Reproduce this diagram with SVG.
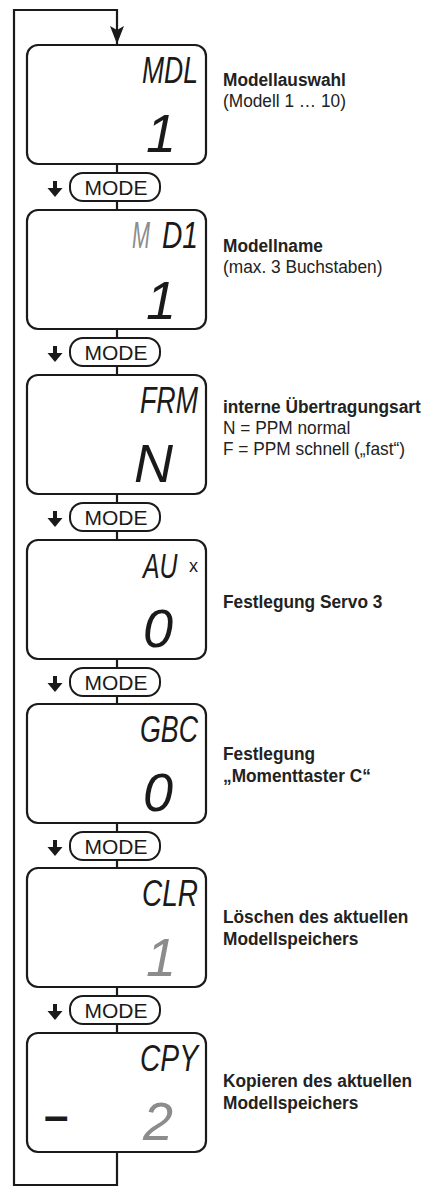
<svg xmlns="http://www.w3.org/2000/svg" width="429" height="1187" viewBox="0 0 429 1187">
<style>
.box{fill:#fff;stroke:#1a1a1a;stroke-width:2.2}
.btn{fill:#fff;stroke:#1a1a1a;stroke-width:2}
.ln{fill:none;stroke:#1a1a1a;stroke-width:2.2}
.mode{font-family:"Liberation Sans",Arial,sans-serif;font-size:21px;fill:#1a1a1a;text-anchor:middle}
.lcd{font-family:"Liberation Sans",Arial,sans-serif;font-style:italic;fill:#1a1a1a;text-anchor:end}
.top{font-size:36px}
.big{font-size:54px}
.grey{fill:#8c8c8c}
.t{font-family:"Liberation Sans",Arial,sans-serif;font-size:18.5px;fill:#222}
.b{font-weight:bold}
.arr{fill:#1a1a1a}
</style>
<defs>
<marker id="ah" markerUnits="userSpaceOnUse" markerWidth="20" markerHeight="16" refX="18" refY="8" orient="auto" viewBox="0 0 20 16">
<path d="M0,1 L18,8 L0,15 L4,8 Z" fill="#1a1a1a"/>
</marker>
<g id="dn"><rect x="-2" y="-6" width="4" height="8"/><path d="M-7.5,1 L7.5,1 L0,10 Z"/></g>
</defs>

<g id="connectors">
<path class="ln" d="M117,1152 V1185 H14 V10 H117 V44" marker-end="url(#ah)"/>
<path class="ln" d="M117,164 V173 M117,201 V210 M117,329 V338 M117,366 V375 M117,494 V503 M117,531 V540 M117,659 V668 M117,696 V704 M117,823 V832 M117,860 V868 M117,987 V996 M117,1024 V1033"/>
</g>

<g id="mode-buttons">
<g id="mode1"><rect class="btn" x="70" y="173" width="90" height="28" rx="13"/><text class="mode" x="116" y="194.5">MODE</text><use href="#dn" x="55" y="187" class="arr"/></g>
<g id="mode2"><rect class="btn" x="70" y="338" width="90" height="28" rx="13"/><text class="mode" x="116" y="359.5">MODE</text><use href="#dn" x="55" y="352" class="arr"/></g>
<g id="mode3"><rect class="btn" x="70" y="503" width="90" height="28" rx="13"/><text class="mode" x="116" y="524.5">MODE</text><use href="#dn" x="55" y="517" class="arr"/></g>
<g id="mode4"><rect class="btn" x="70" y="668" width="90" height="28" rx="13"/><text class="mode" x="116" y="689.5">MODE</text><use href="#dn" x="55" y="682" class="arr"/></g>
<g id="mode5"><rect class="btn" x="70" y="832" width="90" height="28" rx="13"/><text class="mode" x="116" y="853.5">MODE</text><use href="#dn" x="55" y="846" class="arr"/></g>
<g id="mode6"><rect class="btn" x="70" y="996" width="90" height="28" rx="13"/><text class="mode" x="116" y="1017.5">MODE</text><use href="#dn" x="55" y="1010" class="arr"/></g>
</g>

<g id="n1">
<rect class="box" x="27" y="45" width="179" height="119" rx="11"/>
<text class="lcd top" x="198" y="83" textLength="56" lengthAdjust="spacingAndGlyphs">MDL</text>
<text class="lcd big" x="176" y="152">1</text>
<g transform="translate(223,0) scale(0.935,1)">
<text class="t b" x="0" y="86">Modellauswahl</text>
<text class="t" x="0" y="107">(Modell 1 … 10)</text>
</g>
</g>

<g id="n2">
<rect class="box" x="27" y="210" width="179" height="119" rx="11"/>
<text class="lcd top grey" x="150" y="248" textLength="18" lengthAdjust="spacingAndGlyphs">M</text>
<text class="lcd top" x="198" y="248" textLength="36" lengthAdjust="spacingAndGlyphs">D1</text>
<text class="lcd big" x="176" y="319">1</text>
<g transform="translate(223,0) scale(0.935,1)">
<text class="t b" x="0" y="252">Modellname</text>
<text class="t" x="0" y="273">(max. 3 Buchstaben)</text>
</g>
</g>

<g id="n3">
<rect class="box" x="27" y="375" width="179" height="119" rx="11"/>
<text class="lcd top" x="198" y="413" textLength="58" lengthAdjust="spacingAndGlyphs">FRM</text>
<text class="lcd big" x="173" y="482">N</text>
<g transform="translate(223,0) scale(0.935,1)">
<text class="t b" x="0" y="413">interne Übertragungsart</text>
<text class="t" x="0" y="434">N = PPM normal</text>
<text class="t" x="0" y="455">F = PPM schnell („fast“)</text>
</g>
</g>

<g id="n4">
<rect class="box" x="27" y="540" width="179" height="119" rx="11"/>
<g transform="translate(143,578) scale(0.69,1)"><text x="0" y="0" font-family="Liberation Sans,Arial,sans-serif" font-style="italic" font-size="36" fill="#1a1a1a">AU</text></g>
<text x="189" y="572" font-family="Liberation Sans,Arial,sans-serif" font-size="18" fill="#1a1a1a">x</text>
<text class="lcd big" x="173" y="647">0</text>
<g transform="translate(223,0) scale(0.935,1)">
<text class="t b" x="0" y="608">Festlegung Servo 3</text>
</g>
</g>

<g id="n5">
<rect class="box" x="27" y="704" width="179" height="119" rx="11"/>
<text class="lcd top" x="198" y="742" textLength="58" lengthAdjust="spacingAndGlyphs">GBC</text>
<text class="lcd big" x="173" y="811">0</text>
<g transform="translate(223,0) scale(0.935,1)">
<text class="t b" x="0" y="760">Festlegung</text>
<text class="t b" x="0" y="782">„Momenttaster C“</text>
</g>
</g>

<g id="n6">
<rect class="box" x="27" y="868" width="179" height="119" rx="11"/>
<text class="lcd top" x="198" y="906" textLength="56" lengthAdjust="spacingAndGlyphs">CLR</text>
<text class="lcd big grey" x="176" y="976">1</text>
<g transform="translate(223,0) scale(0.935,1)">
<text class="t b" x="0" y="923">Löschen des aktuellen</text>
<text class="t b" x="0" y="945">Modellspeichers</text>
</g>
</g>

<g id="n7">
<rect class="box" x="27" y="1033" width="179" height="119" rx="11"/>
<text class="lcd top" x="198" y="1071" textLength="58" lengthAdjust="spacingAndGlyphs">CPY</text>
<text x="44" y="1131" font-family="Liberation Sans,Arial,sans-serif" font-weight="bold" font-size="44" fill="#1a1a1a">–</text>
<text class="lcd big grey" x="173" y="1140">2</text>
<g transform="translate(223,0) scale(0.935,1)">
<text class="t b" x="0" y="1087">Kopieren des aktuellen</text>
<text class="t b" x="0" y="1109">Modellspeichers</text>
</g>
</g>
</svg>
